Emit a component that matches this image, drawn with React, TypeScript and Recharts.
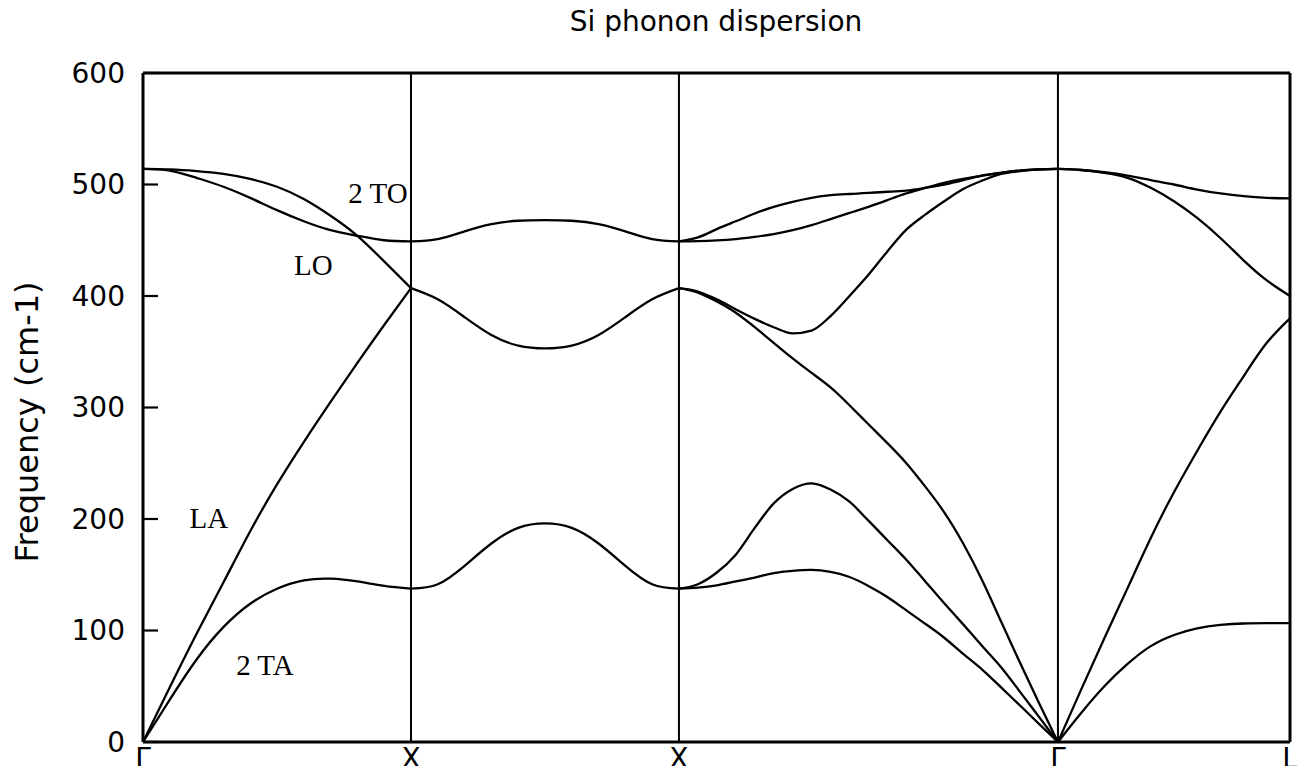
import React from 'react';
import { LineChart, Line, XAxis, YAxis, ReferenceLine, ReferenceDot } from 'recharts';

// High-symmetry points along the path Γ–X–X–Γ–L (path length in units of 2π/a)
const pointTicks = [0, 1, 2, 3.4142, 4.2802];
const pointLabels = ['Γ', 'X', 'X', 'Γ', 'L'];
const freqTicks = [0, 100, 200, 300, 400, 500, 600];

// Γ → X
const gxK = [0, 0.1, 0.2, 0.3, 0.4, 0.5, 0.6, 0.7, 0.8, 0.9, 1.0];
const gxTA = [0, 38, 74, 103, 124, 137.5, 145, 146.5, 144, 140, 137.5];
const gxLA = [0, 49, 97, 143, 189, 231, 269, 305, 340, 374, 407];
const gxLO = [514, 513.5, 512, 509.5, 505, 498, 487, 472, 454, 431, 407];
const gxTO = [514, 512.5, 506, 498, 488, 477, 467, 459, 454, 450, 449];

// X → X
const xxK = [1, 1.1, 1.2, 1.3, 1.4, 1.5, 1.6, 1.7, 1.8, 1.9, 2.0];
const xxOpt = [449, 451, 458, 464.5, 467.5, 468, 467.5, 464.5, 458, 451, 449];
const xxMid = [407, 397, 381, 365, 355.5, 353, 355.5, 365, 381, 397, 407];
const xxAc = [137.5, 141.5, 158, 178, 192, 196, 192, 178, 158, 141.5, 137.5];

// X → Γ
const xgK = [
  2.0, 2.0707, 2.1414, 2.2121, 2.2828, 2.3536, 2.4243, 2.495, 2.5657, 2.6364, 2.7071,
  2.7778, 2.8485, 2.9192, 2.9899, 3.0607, 3.1314, 3.2021, 3.2728, 3.3435, 3.4142,
];
const xgTO1 = [449, 452.5, 460, 467, 474, 480, 484.5, 488, 490.5, 491.5, 492.5, 493.5, 494.5, 497, 500, 504, 508, 510.5, 512.5, 513.5, 514];
const xgTO2 = [449, 449.2, 449.8, 451, 453, 455.5, 459, 463.5, 469, 474.5, 480, 486, 492, 497, 501.5, 505, 508, 510.5, 512.5, 513.5, 514];
const xgLO = [407, 404, 397, 388, 379.5, 372, 366.5, 369, 382, 400, 419, 440, 459.5, 473, 485, 496, 503.5, 509.5, 512, 513.5, 514];
const xgLA = [407, 403, 395, 385, 372, 358, 344, 331, 318, 302, 285, 268, 250, 229, 206, 178, 145, 108, 71, 35, 0];
const xgTA1 = [137.5, 141.5, 152, 168, 192, 214, 227, 232, 226.5, 215.5, 198.5, 181, 163.5, 144, 124.5, 105.5, 86, 67, 45, 22.5, 0];
const xgTA2 = [137.5, 138.5, 140.5, 144, 147.5, 151.5, 153.5, 154.3, 152.5, 148, 140, 130, 118, 106, 93.5, 79, 65, 49, 32.7, 16.3, 0];

// Γ → L
const glK = [3.4142, 3.5008, 3.5874, 3.674, 3.7606, 3.8472, 3.9338, 4.0204, 4.107, 4.1936, 4.2802];
const glTO = [514, 513, 511, 508, 504, 500, 495.5, 492, 489.5, 488, 487.5];
const glLO = [514, 513, 510.5, 506, 497, 485, 470, 452, 432, 414, 400];
const glLA = [0, 47, 93, 138, 183, 224, 261, 296, 328, 358, 380];
const glTA = [0, 26, 50, 70, 86, 96, 102, 105, 106.3, 106.6, 106.6];

type Row = { k: number; [band: string]: number };

function toRows(k: number[], bands: Record<string, number[]>): Row[] {
  return k.map((kv, i) => {
    const row: Row = { k: kv };
    Object.keys(bands).forEach((name) => {
      row[name] = bands[name][i];
    });
    return row;
  });
}

const segments: Record<string, number[]>[] = [
  { gxTA, gxLA, gxLO, gxTO },
  { xxOpt, xxMid, xxAc },
  { xgTO1, xgTO2, xgLO, xgLA, xgTA1, xgTA2 },
  { glTO, glLO, glLA, glTA },
];
const segmentK = [gxK, xxK, xgK, glK];

// branches with a sharp turning point keep a monotone curve, the rest are splined
const sharpBranches = new Set(['xgLO', 'xgTA1']);

const branchLabels = [
  { text: '2 TO', k: 0.877, f: 493 },
  { text: 'LO', k: 0.636, f: 428 },
  { text: 'LA', k: 0.246, f: 201 },
  { text: '2 TA', k: 0.455, f: 69 },
];

const sans = 'DejaVu Sans, sans-serif';
const serif = 'Liberation Serif, Times New Roman, serif';

export default function App() {
  return (
    <div
      style={{
        position: 'fixed',
        left: 0,
        top: 0,
        width: 1297,
        height: 766,
        overflow: 'hidden',
        background: '#fff',
      }}
    >
      <div
        style={{
          position: 'absolute',
          left: 716,
          top: 21,
          transform: 'translate(-50%, -50%)',
          fontFamily: sans,
          fontSize: 28,
          whiteSpace: 'nowrap',
          color: '#000',
        }}
      >
        Si phonon dispersion
      </div>
      <div
        style={{
          position: 'absolute',
          left: 27,
          top: 422,
          transform: 'translate(-50%, -50%) rotate(-90deg)',
          fontFamily: sans,
          fontSize: 32,
          whiteSpace: 'nowrap',
          color: '#000',
        }}
      >
        Frequency (cm-1)
      </div>
      <div style={{ position: 'absolute', left: 0, top: 0 }}>
        <LineChart width={1297} height={800} margin={{ top: 73, right: 6, bottom: 18, left: 73 }}>
          <XAxis
            dataKey="k"
            type="number"
            domain={[0, 4.2802]}
            ticks={pointTicks}
            tickFormatter={(_v: number, i: number) => pointLabels[i]}
            interval={0}
            allowDuplicatedCategory={false}
            height={40}
            tickLine={false}
            tickSize={0}
            tickMargin={6}
            axisLine={{ stroke: '#000', strokeWidth: 3 }}
            tick={{ fill: '#000', fontSize: 28, fontFamily: sans }}
          />
          <YAxis
            type="number"
            domain={[0, 600]}
            ticks={freqTicks}
            interval={0}
            width={70}
            tickSize={-15}
            tickMargin={33}
            axisLine={{ stroke: '#000', strokeWidth: 3 }}
            tickLine={{ stroke: '#000', strokeWidth: 2.2 }}
            tick={{ fill: '#000', fontSize: 28, fontFamily: sans }}
          />
          <YAxis
            yAxisId="right"
            orientation="right"
            type="number"
            domain={[0, 600]}
            ticks={freqTicks}
            interval={0}
            width={1}
            tickSize={-15}
            tick={false}
            axisLine={{ stroke: '#000', strokeWidth: 3 }}
            tickLine={{ stroke: '#000', strokeWidth: 2.2 }}
          />
          <ReferenceLine y={600} stroke="#000" strokeWidth={3} />
          {pointTicks.slice(1, 4).map((k, i) => (
            <ReferenceLine key={`v${i}`} x={k} stroke="#000" strokeWidth={2} />
          ))}
          {segments.map((bands, s) => {
            const rows = toRows(segmentK[s], bands);
            return Object.keys(bands).map((name) => (
              <Line
                key={name}
                data={rows}
                dataKey={name}
                type={sharpBranches.has(name) ? 'monotone' : 'natural'}
                stroke="#000"
                strokeWidth={2.3}
                dot={false}
                activeDot={false}
                isAnimationActive={false}
              />
            ));
          })}
          {branchLabels.map((b) => (
            <ReferenceDot
              key={b.text}
              x={b.k}
              y={b.f}
              r={0}
              fill="none"
              stroke="none"
              label={{ value: b.text, position: 'center', fill: '#000', fontSize: 29, fontFamily: serif }}
            />
          ))}
        </LineChart>
      </div>
    </div>
  );
}
